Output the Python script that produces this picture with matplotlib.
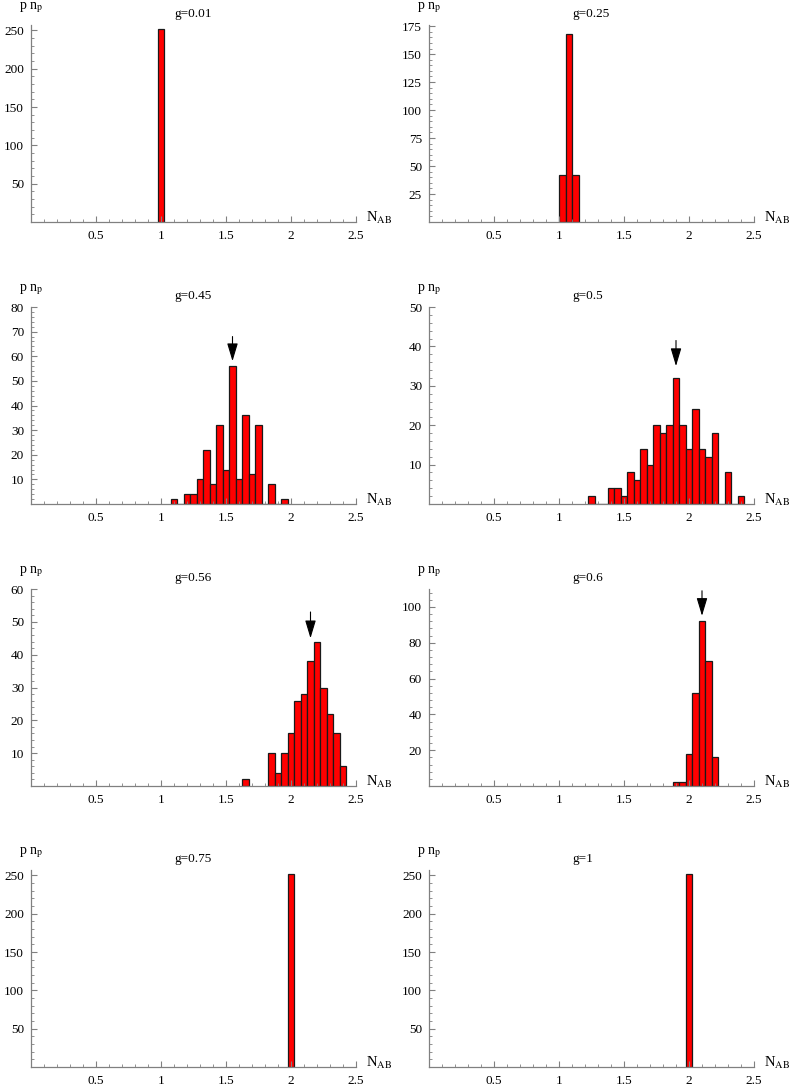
import numpy as np
import matplotlib
matplotlib.use("Agg")
import matplotlib.pyplot as plt
from matplotlib.ticker import MultipleLocator, FixedLocator

plt.rcParams['font.family'] = ['Liberation Serif', 'DejaVu Serif']
plt.rcParams['mathtext.fontset'] = 'stix'

# g values, one panel each (row by row, left to right)
titles = ['g=0.01', 'g=0.25', 'g=0.45', 'g=0.5', 'g=0.56', 'g=0.6', 'g=0.75', 'g=1']

# bin centres and counts (bin width 0.05)
x01 = [1.0]
n01 = [252]
x25 = [1.025, 1.075, 1.125]
n25 = [42, 168, 42]
x45 = [1.10, 1.15, 1.20, 1.25, 1.30, 1.35, 1.40, 1.45, 1.50, 1.55, 1.60, 1.65,
       1.70, 1.75, 1.80, 1.85, 1.90, 1.95]
n45 = [2, 0, 4, 4, 10, 22, 8, 32, 14, 56, 10, 36, 12, 32, 0, 8, 0, 2]
x50 = [1.25, 1.30, 1.35, 1.40, 1.45, 1.50, 1.55, 1.60, 1.65, 1.70, 1.75, 1.80,
       1.85, 1.90, 1.95, 2.00, 2.05, 2.10, 2.15, 2.20, 2.25, 2.30, 2.35, 2.40]
n50 = [2, 0, 0, 4, 4, 2, 8, 6, 14, 10, 20, 18, 20, 32, 20, 14, 24, 14, 12, 18,
       0, 8, 0, 2]
x56 = [1.65, 1.85, 1.90, 1.95, 2.00, 2.05, 2.10, 2.15, 2.20, 2.25, 2.30, 2.35, 2.40]
n56 = [2, 10, 4, 10, 16, 26, 28, 38, 44, 30, 22, 16, 6]
x60 = [1.90, 1.95, 2.00, 2.05, 2.10, 2.15, 2.20]
n60 = [2, 2, 18, 52, 92, 70, 16]
x75 = [2.0]
n75 = [252]
x100 = [2.0]
n100 = [252]

centres = [x01, x25, x45, x50, x56, x60, x75, x100]
counts = [n01, n25, n45, n50, n56, n60, n75, n100]

# y range, major / minor tick step for each panel
ymax = [257, 176, 80, 50, 60, 110, 257, 257]
ymajor = [50, 25, 10, 10, 10, 20, 50, 50]
yminor = [10, 5, 2, 2, 2, 4, 10, 10]

# arrows: (x, tip, tail) in data units, None where no arrow
arrows = [None, None, (1.55, 58, 68), (1.9, 35, 41.5), (2.15, 45, 53),
          (2.1, 95, 109), None, None]

bin_w = 0.05
W, H = 789, 1087
fig = plt.figure(figsize=(W / 100, H / 100), dpi=100)

axis_grey = '#808080'
col_left = [31, 429]
row_top = [25, 307, 589, 870]
ax_w, ax_h = 325, 197

for i in range(8):
    r, c = divmod(i, 2)
    left = col_left[c] / W
    bottom = 1 - (row_top[r] + ax_h) / H
    ax = fig.add_axes([left, bottom, ax_w / W, ax_h / H])

    ax.bar(centres[i], counts[i], width=bin_w, color='#ff0000',
           edgecolor='#1a1a1a', linewidth=0.9)

    ax.set_xlim(0, 2.5)
    ax.set_ylim(0, ymax[i])

    for s in ['top', 'right']:
        ax.spines[s].set_visible(False)
    for s in ['left', 'bottom']:
        ax.spines[s].set_color(axis_grey)
        ax.spines[s].set_linewidth(0.9)

    ax.xaxis.set_major_locator(FixedLocator([0.5, 1, 1.5, 2, 2.5]))
    ax.set_xticklabels(['0.5', '1', '1.5', '2', '2.5'])
    ax.xaxis.set_minor_locator(MultipleLocator(0.1))
    yt = np.arange(ymajor[i], ymax[i] + 0.1, ymajor[i])
    ax.yaxis.set_major_locator(FixedLocator(yt))
    ax.set_yticklabels([str(int(v)) for v in yt])
    ax.yaxis.set_minor_locator(MultipleLocator(yminor[i]))

    ax.tick_params(which='both', direction='in', color=axis_grey, labelsize=9.5,
                   labelcolor='black')
    ax.tick_params(which='major', length=4, width=0.8)
    ax.tick_params(which='minor', length=2, width=0.6)
    ax.tick_params(axis='x', pad=6)
    ax.tick_params(axis='y', pad=5)

    ax.text(-12 / ax_w, 1 + 17 / ax_h, r'p n$_{\rm p}$', transform=ax.transAxes,
            ha='left', va='center', fontsize=10)
    ax.text(143 / ax_w, 1 + 11 / ax_h, titles[i], transform=ax.transAxes,
            ha='left', va='center', fontsize=9.5)
    ax.text(1 + 10 / ax_w, 4 / ax_h, r'N$_{\rm AB}$', transform=ax.transAxes,
            ha='left', va='center', fontsize=10.5)

    if arrows[i] is not None:
        xa, tip, tail = arrows[i]
        ax.annotate('', xy=(xa, tip), xytext=(xa, tail),
                    arrowprops=dict(arrowstyle='-|>,head_length=1.1,head_width=0.33',
                                    color='black', lw=0.8, shrinkA=0, shrinkB=0),
                    annotation_clip=False)

fig.savefig('out.png', dpi=100)
